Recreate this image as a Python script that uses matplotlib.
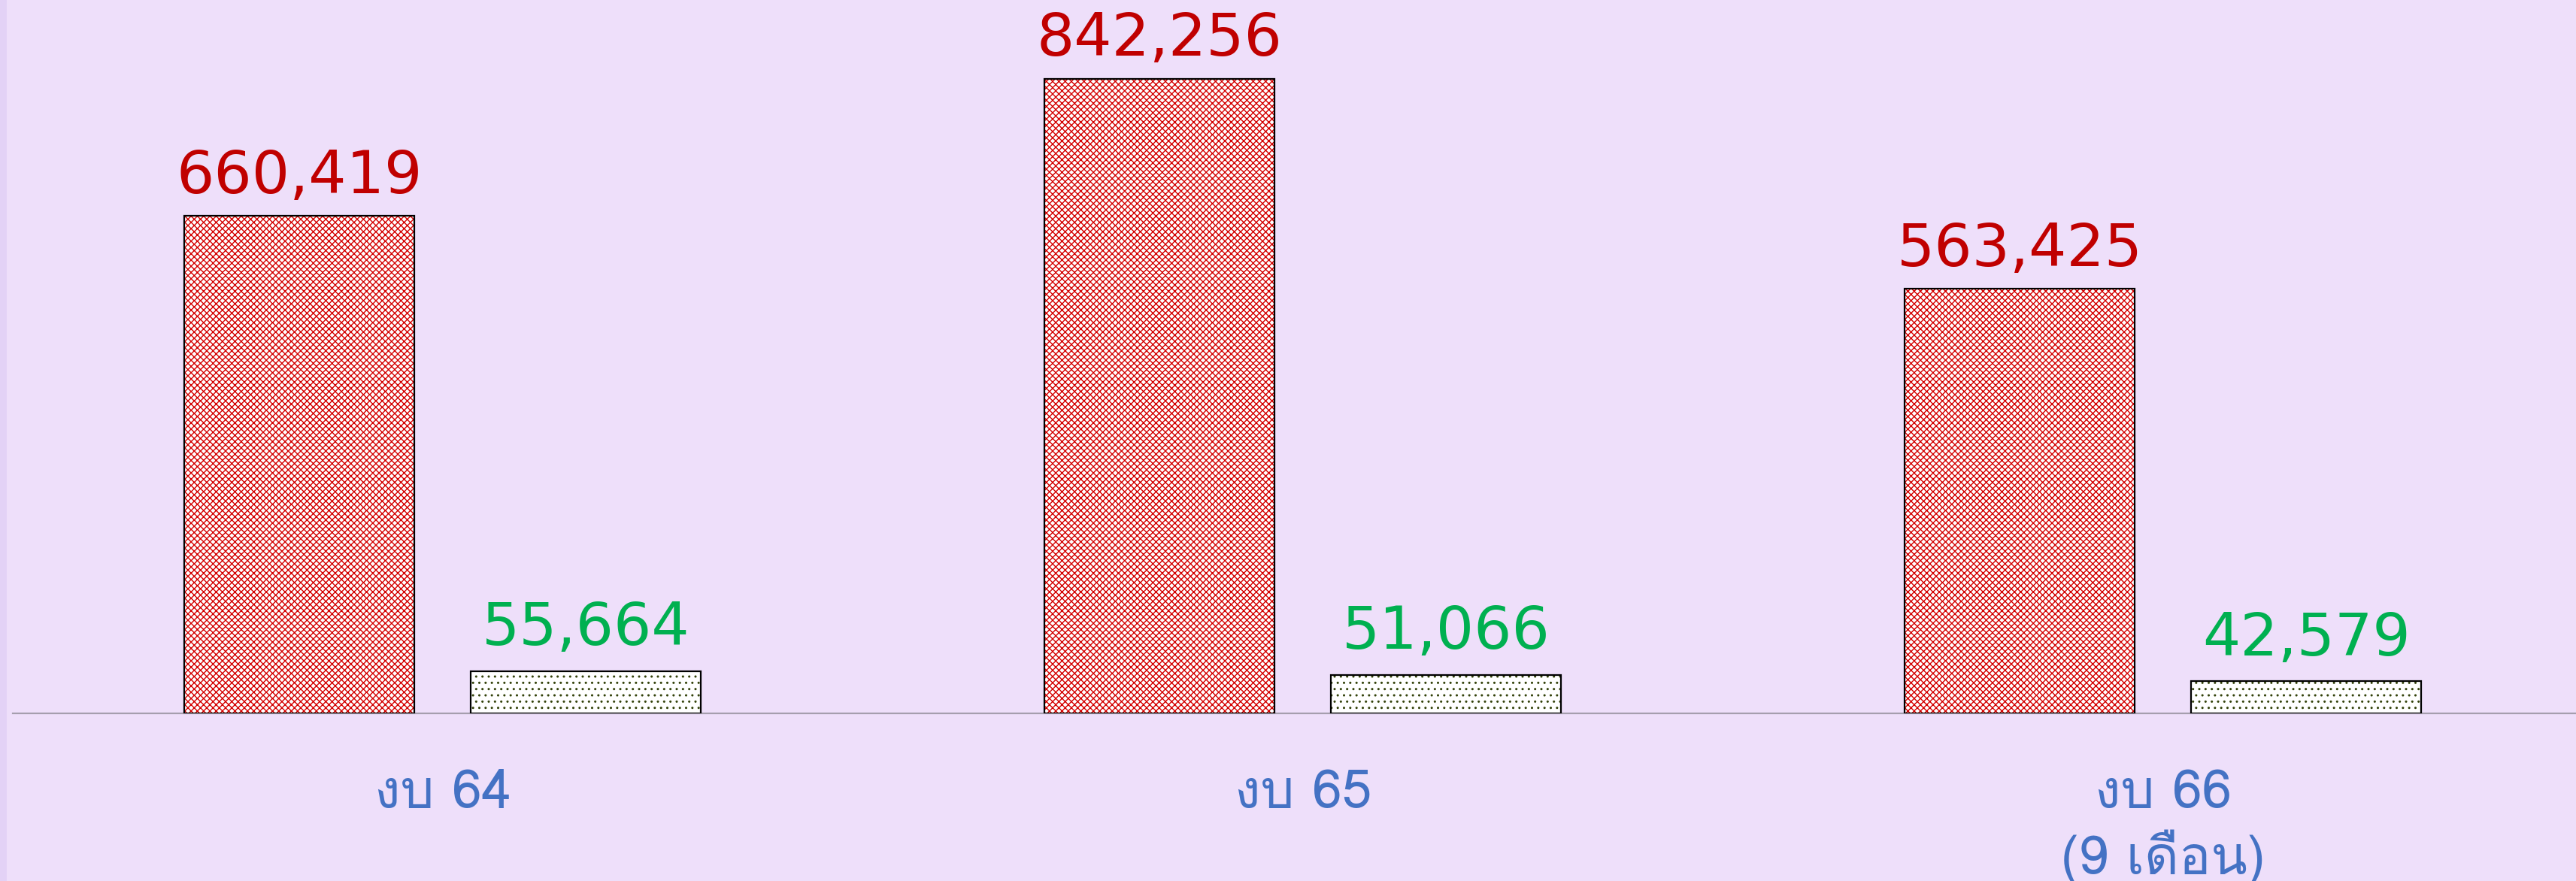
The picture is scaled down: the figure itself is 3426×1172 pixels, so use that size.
import matplotlib
matplotlib.use("Agg")
import matplotlib.pyplot as plt
from matplotlib import font_manager
from matplotlib.patches import Rectangle
import numpy as np

# ---------------- data ----------------
categories = ["งบ 64", "งบ 65", "งบ 66\n(9 เดือน)"]
series_a = [660419, 842256, 563425]   # red cross-hatched bars
series_b = [55664, 51066, 42579]      # dotted bars
labels_a = ["660,419", "842,256", "563,425"]
labels_b = ["55,664", "51,066", "42,579"]

# ---------------- find a font with Thai glyphs ----------------
def find_thai_font():
    try:
        from fontTools.ttLib import TTFont
    except Exception:
        return None
    paths = set(f.fname for f in font_manager.fontManager.ttflist)
    try:
        paths |= set(font_manager.findSystemFonts())
    except Exception:
        pass
    found = []
    for p in sorted(paths):
        try:
            tt = TTFont(p, fontNumber=0, lazy=True)
            cmap = tt.getBestCmap()
            if cmap and all(c in cmap for c in (0x0E07, 0x0E1A, 0x0E40, 0x0E14, 0x0E37)):
                found.append(p)
        except Exception:
            continue
    if not found:
        return None
    pref = ["Tahoma", "Loma", "NotoSansThai", "Noto Sans Thai", "Garuda", "Sarabun", "Waree", "Umpush", "Kinnari", "Norasi"]
    def score(p):
        s = 0 if "bold" in p.lower() else 0.5
        for i, k in enumerate(pref):
            if k.lower().replace(" ", "") in p.lower().replace(" ", ""):
                return i + s
        return len(pref) + s
    found.sort(key=score)
    for p in found:
        try:
            font_manager.fontManager.addfont(p)
        except Exception:
            pass
    try:
        return font_manager.FontProperties(fname=found[0]).get_name()
    except Exception:
        return None

thai = find_thai_font()
cat_family = ([thai] if thai else []) + ["DejaVu Sans"]

# ---------------- figure ----------------
W, H, DPI = 3426, 1172, 100
bg = "#EEDFFA"
fig = plt.figure(figsize=(W / DPI, H / DPI), dpi=DPI, facecolor=bg)
fig.patches.append(Rectangle((0, 0), 9 / W, 1, transform=fig.transFigure,
                             facecolor="#E3D2F6", edgecolor="none", zorder=0))

base_y = 949  # px from top
ax = fig.add_axes([17 / W, (H - base_y) / H, 1 - 17 / W, base_y / H])
ax.set_facecolor("none")

x = np.arange(len(categories))
bw = 0.2675
off = 0.1665
ax.set_xlim(-0.4996, 2.480)
ax.set_ylim(0, 947000)

plt.rcParams["hatch.linewidth"] = 1.0

# red cross-hatched bars (hatch in red, then black outline on top)
ax.bar(x - off, series_a, width=bw, facecolor="white", edgecolor="#D40000",
       hatch="xxxx", linewidth=0, zorder=2)
ax.bar(x - off, series_a, width=bw, fill=False, edgecolor="black",
       linewidth=1.6, zorder=3)

# dotted bars
ax.bar(x + off, series_b, width=bw, facecolor="white", edgecolor="#33420A",
       hatch="..", linewidth=0, zorder=2)
ax.bar(x + off, series_b, width=bw, fill=False, edgecolor="black",
       linewidth=1.6, zorder=3)

for xi, v, s in zip(x, series_a, labels_a):
    ax.annotate(s, (xi - off, v), xytext=(0, 22), textcoords="offset points",
                ha="center", va="baseline", fontsize=57, color="#C00000",
                family="DejaVu Sans")
for xi, v, s in zip(x, series_b, labels_b):
    ax.annotate(s, (xi + off, v), xytext=(0, 25), textcoords="offset points",
                ha="center", va="baseline", fontsize=57, color="#00B050",
                family="DejaVu Sans")

for sp in ("top", "right", "left"):
    ax.spines[sp].set_visible(False)
ax.spines["bottom"].set_color("#A59EAD")
ax.spines["bottom"].set_linewidth(1.6)
ax.spines["bottom"].set_zorder(1)
ax.set_yticks([])
ax.set_xticks(x)
ax.set_xticklabels(categories, family=cat_family, fontsize=51, weight="normal",
                   color="#4472C4", linespacing=1.22)
ax.tick_params(axis="x", length=0, pad=54)

fig.savefig("out.png", dpi=DPI, facecolor=bg)
